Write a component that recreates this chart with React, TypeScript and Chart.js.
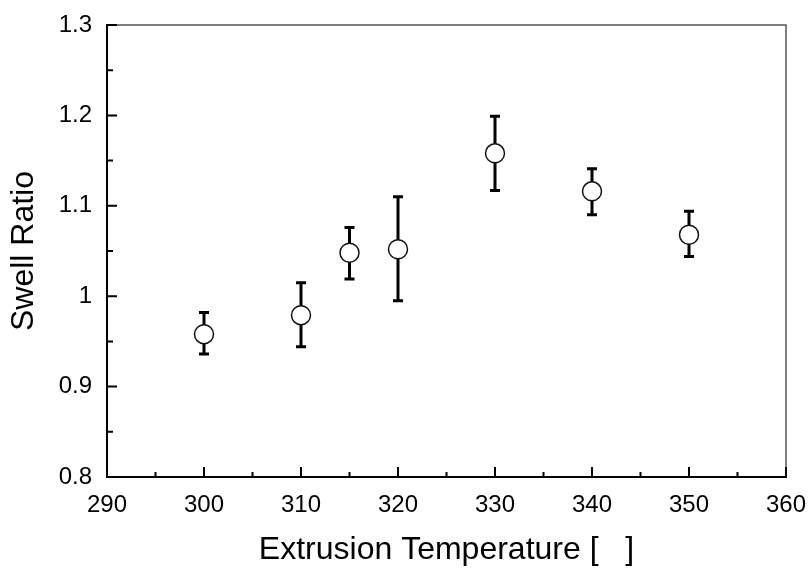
import React, { useEffect, useRef } from "react";
import { Chart, registerables } from "chart.js";

Chart.register(...registerables);

// ---- Data ----
const temperatures = [300, 310, 315, 320, 330, 340, 350];
const swellRatio = [0.958, 0.979, 1.048, 1.052, 1.158, 1.116, 1.068];
const errorHigh = [0.982, 1.015, 1.076, 1.110, 1.199, 1.141, 1.094];
const errorLow = [0.936, 0.944, 1.019, 0.995, 1.117, 1.090, 1.044];

const xTickValues = [290, 300, 310, 320, 330, 340, 350, 360];
const xTickLabels = ["290", "300", "310", "320", "330", "340", "350", "360"];
const yTickValues = [0.8, 0.9, 1.0, 1.1, 1.2, 1.3];
const yTickLabels = ["0.8", "0.9", "1", "1.1", "1.2", "1.3"];

const xTitle = "Extrusion Temperature [   ]";
const yTitle = "Swell Ratio";

const FONT = "'Liberation Sans', Arial, sans-serif";

function labelFor(values: number[], labels: string[], v: number) {
  let best = 0;
  for (let i = 1; i < values.length; i++) {
    if (Math.abs(values[i] - v) < Math.abs(values[best] - v)) best = i;
  }
  return labels[best];
}

const errorBarsPlugin = {
  id: "errorBars",
  beforeDatasetsDraw(chart: any) {
    const { ctx } = chart;
    const xs = chart.scales.x;
    const ys = chart.scales.y;
    ctx.save();
    ctx.strokeStyle = "#000";
    ctx.lineWidth = 3;
    ctx.lineCap = "butt";
    for (let i = 0; i < temperatures.length; i++) {
      const x = xs.getPixelForValue(temperatures[i]);
      const yHi = ys.getPixelForValue(errorHigh[i]);
      const yLo = ys.getPixelForValue(errorLow[i]);
      ctx.beginPath();
      ctx.moveTo(x, yHi);
      ctx.lineTo(x, yLo);
      ctx.moveTo(x - 5, yHi);
      ctx.lineTo(x + 5, yHi);
      ctx.moveTo(x - 5, yLo);
      ctx.lineTo(x + 5, yLo);
      ctx.stroke();
    }
    ctx.restore();
  },
};

const frameTicksPlugin = {
  id: "frameTicks",
  afterDraw(chart: any) {
    const { ctx, chartArea } = chart;
    const { left, right, top, bottom } = chartArea;
    const xs = chart.scales.x;
    const ys = chart.scales.y;
    ctx.save();
    // thin top/right frame
    ctx.strokeStyle = "#555";
    ctx.lineWidth = 1.5;
    ctx.beginPath();
    ctx.moveTo(left, top);
    ctx.lineTo(right, top);
    ctx.lineTo(right, bottom);
    ctx.stroke();

    ctx.strokeStyle = "#000";
    ctx.lineWidth = 2;
    const xp: number[] = xs.ticks.map((t: any) => xs.getPixelForValue(t.value));
    const yp: number[] = ys.ticks.map((t: any) => ys.getPixelForValue(t.value));
    ctx.beginPath();
    xp.forEach((x, i) => {
      ctx.moveTo(x, bottom);
      ctx.lineTo(x, bottom - 10);
      if (i < xp.length - 1) {
        const m = (x + xp[i + 1]) / 2;
        ctx.moveTo(m, bottom);
        ctx.lineTo(m, bottom - 5);
      }
    });
    yp.forEach((y, i) => {
      ctx.moveTo(left, y);
      ctx.lineTo(left + 10, y);
      if (i < yp.length - 1) {
        const m = (y + yp[i + 1]) / 2;
        ctx.moveTo(left, m);
        ctx.lineTo(left + 6, m);
      }
    });
    ctx.stroke();
    ctx.restore();
  },
};

export default function App() {
  const canvasRef = useRef<HTMLCanvasElement | null>(null);

  useEffect(() => {
    if (!canvasRef.current) return;
    const chart = new Chart(canvasRef.current, {
      type: "scatter",
      data: {
        datasets: [
          {
            data: temperatures.map((t, i) => ({ x: t, y: swellRatio[i] })),
            pointRadius: 9.5,
            pointHoverRadius: 9.5,
            pointBorderWidth: 1.5,
            pointBorderColor: "#111",
            pointBackgroundColor: "#fff",
            showLine: false,
          },
        ],
      },
      options: {
        animation: false,
        responsive: false,
        events: [],
        layout: { padding: { top: 25, right: 24, left: 0, bottom: 0 } },
        plugins: {
          legend: { display: false },
          tooltip: { enabled: false },
        },
        scales: {
          x: {
            type: "linear",
            min: xTickValues[0],
            max: xTickValues[xTickValues.length - 1],
            afterFit: (scale: any) => {
              scale.height = 91;
              scale.paddingLeft = 0;
              scale.paddingRight = 0;
              scale.paddingTop = 0;
              scale.paddingBottom = 0;
            },
            afterBuildTicks: (scale: any) => {
              scale.ticks = xTickValues.map((v) => ({ value: v }));
            },
            grid: { display: false, drawTicks: false },
            border: { display: true, color: "#000", width: 2 },
            ticks: {
              padding: 14,
              color: "#000",
              font: { family: FONT, size: 24 },
              maxRotation: 0,
              callback: (v: any) => labelFor(xTickValues, xTickLabels, Number(v)),
            },
            title: {
              display: true,
              text: xTitle,
              color: "#000",
              font: { family: FONT, size: 32, lineHeight: 1 },
              padding: { top: 0, bottom: 1.5 },
            },
          },
          y: {
            type: "linear",
            min: yTickValues[0],
            max: yTickValues[yTickValues.length - 1],
            afterFit: (scale: any) => {
              scale.width = 107;
              scale.paddingLeft = 0;
              scale.paddingRight = 0;
              scale.paddingTop = 0;
              scale.paddingBottom = 0;
            },
            afterBuildTicks: (scale: any) => {
              scale.ticks = yTickValues.map((v) => ({ value: v }));
            },
            grid: { display: false, drawTicks: false },
            border: { display: true, color: "#000", width: 2 },
            ticks: {
              padding: 15,
              color: "#000",
              font: { family: FONT, size: 24 },
              callback: (v: any) => labelFor(yTickValues, yTickLabels, Number(v)),
            },
            title: {
              display: true,
              text: yTitle,
              color: "#000",
              font: { family: FONT, size: 32, lineHeight: 1 },
              padding: { top: 8, bottom: 0 },
            },
          },
        },
      },
      plugins: [errorBarsPlugin, frameTicksPlugin],
    } as any);
    return () => chart.destroy();
  }, []);

  return (
    <div style={{ position: "absolute", left: 0, top: 0, width: 810, height: 568, background: "#fff" }}>
      <canvas ref={canvasRef} width={810} height={568} style={{ display: "block" }} />
    </div>
  );
}
